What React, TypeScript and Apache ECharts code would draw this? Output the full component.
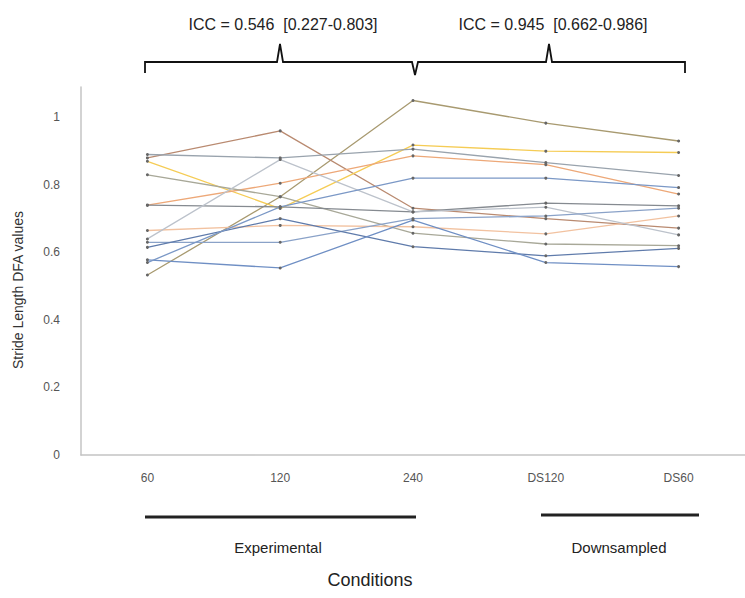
import React, { useEffect, useRef } from "react";
import * as echarts from "echarts";

const categories = ["60", "120", "240", "DS120", "DS60"];
const yTicks = [0, 0.2, 0.4, 0.6, 0.8, 1];

const s01 = [0.533, 0.765, 1.05, 0.983, 0.93];
const s02 = [0.88, 0.96, 0.731, 0.70, 0.672];
const s03 = [0.87, 0.73, 0.918, 0.90, 0.896];
const s04 = [0.89, 0.88, 0.906, 0.866, 0.828];
const s05 = [0.74, 0.805, 0.886, 0.86, 0.773];
const s06 = [0.83, 0.765, 0.657, 0.625, 0.62];
const s07 = [0.74, 0.735, 0.72, 0.746, 0.738];
const s08 = [0.665, 0.68, 0.676, 0.655, 0.708];
const s09 = [0.64, 0.875, 0.72, 0.734, 0.652];
const s10 = [0.63, 0.63, 0.70, 0.708, 0.731];
const s11 = [0.615, 0.70, 0.617, 0.59, 0.612];
const s12 = [0.578, 0.554, 0.696, 0.57, 0.558];
const s13 = [0.57, 0.735, 0.82, 0.82, 0.792];

const seriesValues = [s01, s02, s03, s04, s05, s06, s07, s08, s09, s10, s11, s12, s13];
const seriesColors = [
  "#a89a70", "#b98a70", "#f5cc55", "#99a3ad", "#eda878", "#a8a898",
  "#858a90", "#f2c2a0", "#bcc2cb", "#8aa2c8", "#5f7bab", "#6f8fc4", "#7b98c6",
];

const iccLeft = "ICC = 0.546  [0.227-0.803]";
const iccRight = "ICC = 0.945  [0.662-0.986]";

export default function App() {
  const ref = useRef<HTMLDivElement>(null);
  useEffect(() => {
    if (!ref.current) return;
    const chart = echarts.init(ref.current, null, { renderer: "svg" });
    const font = "'Liberation Sans', Arial, sans-serif";
    chart.setOption({
      animation: false,
      backgroundColor: "#ffffff",
      grid: { left: 81, top: 87, width: 670, height: 368, containLabel: false },
      xAxis: {
        type: "category",
        data: categories,
        boundaryGap: true,
        axisLine: { show: true, lineStyle: { color: "#c4c4c4", width: 1.5 } },
        axisTick: { show: false },
        axisLabel: { color: "#555", fontSize: 12, margin: 17, fontFamily: font },
        splitLine: { show: false },
      },
      yAxis: {
        type: "value",
        min: 0,
        max: 1.09,
        interval: 0.2,
        axisLine: { show: true, lineStyle: { color: "#c4c4c4", width: 1.5 } },
        axisTick: { show: false },
        splitLine: { show: false },
        axisLabel: {
          color: "#555",
          fontSize: 12,
          margin: 21,
          fontFamily: font,
          showMaxLabel: false,
          formatter: (v: number) => (yTicks.some((t) => Math.abs(t - v) < 1e-6) ? String(+v.toFixed(1)) : ""),
        },
      },
      series: seriesValues.map((d, i) => ({
        type: "line",
        data: d,
        symbol: "circle",
        symbolSize: 3,
        lineStyle: { color: seriesColors[i], width: 1.3 },
        itemStyle: { color: "#666" },
        silent: true,
      })),
      graphic: [
        {
          type: "polyline",
          shape: {
            points: [
              [145, 73], [145, 62], [277, 62], [280, 44], [283, 62], [412, 62],
              [415, 75], [418, 62], [546, 62], [549, 44], [552, 62], [685, 62], [685, 73],
            ],
          },
          style: { stroke: "#111", lineWidth: 1.8, fill: null },
        },
        {
          type: "text", x: 283, y: 24,
          style: { text: iccLeft, fontSize: 16, fill: "#222", align: "center", verticalAlign: "middle", fontFamily: font },
        },
        {
          type: "text", x: 553, y: 24,
          style: { text: iccRight, fontSize: 16, fill: "#222", align: "center", verticalAlign: "middle", fontFamily: font },
        },
        {
          type: "line", shape: { x1: 145, y1: 517, x2: 416, y2: 517 },
          style: { stroke: "#222", lineWidth: 3 },
        },
        {
          type: "line", shape: { x1: 541, y1: 515, x2: 699, y2: 515 },
          style: { stroke: "#222", lineWidth: 3 },
        },
        {
          type: "text", x: 278, y: 547,
          style: { text: "Experimental", fontSize: 15, fill: "#222", align: "center", verticalAlign: "middle", fontFamily: font },
        },
        {
          type: "text", x: 619, y: 547,
          style: { text: "Downsampled", fontSize: 15, fill: "#222", align: "center", verticalAlign: "middle", fontFamily: font },
        },
        {
          type: "text", x: 370, y: 580,
          style: { text: "Conditions", fontSize: 18, fill: "#222", align: "center", verticalAlign: "middle", fontFamily: font },
        },
        {
          type: "text", x: 18, y: 290, rotation: Math.PI / 2,
          style: { text: "Stride Length DFA values", fontSize: 14, fill: "#333", align: "center", verticalAlign: "middle", fontFamily: font },
        },
      ],
    });
    return () => chart.dispose();
  }, []);
  return (
    <div
      ref={ref}
      style={{ position: "fixed", left: 0, top: 0, width: 745, height: 598, background: "#fff" }}
    />
  );
}
